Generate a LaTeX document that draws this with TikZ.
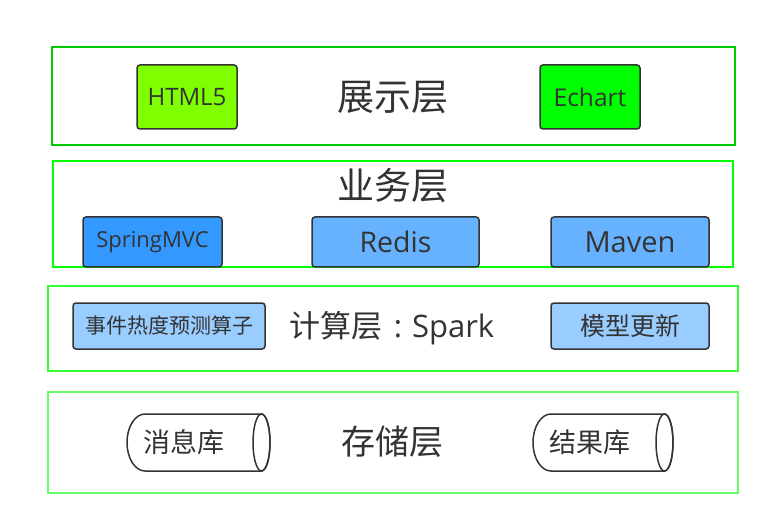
\documentclass[tikz,border=0pt]{standalone}
\usepackage{fontspec}
\setmainfont{Open Sans}
\newfontfamily\cjk{Noto Sans CJK SC}
\usepackage{tikz}
\definecolor{ink}{HTML}{333333}
\definecolor{layerA}{HTML}{00CC00}
\definecolor{layerB}{HTML}{00FF00}
\definecolor{layerC}{HTML}{33FF33}
\definecolor{layerD}{HTML}{66FF66}
\definecolor{lime}{HTML}{80FF00}
\definecolor{green}{HTML}{00FF00}
\definecolor{blue}{HTML}{3399FF}
\definecolor{sky}{HTML}{66B2FF}
\definecolor{pale}{HTML}{99CCFF}
\newcommand{\fs}[1]{\fontsize{#1}{#1}\selectfont}
\tikzset{
  layer/.style={draw, line width=2pt, inner sep=0pt},
  tool/.style={draw=ink, line width=1.5pt, rounded corners=3pt, inner sep=0pt, text=ink},
  can/.style={draw=ink, line width=1.5pt},
  lab/.style={text=ink, inner sep=0pt},
}

\begin{document}
\begin{tikzpicture}[x=1pt,y=-1pt]
  \useasboundingbox (0,0) rectangle (770,526);

  % layers
  \node[layer, draw=layerA, minimum width=683pt, minimum height=98pt] (show) at (393.5,96) {};
  \node[layer, draw=layerB, minimum width=680pt, minimum height=106pt] (biz) at (393,214) {};
  \node[layer, draw=layerC, minimum width=690pt, minimum height=85pt] (calc) at (393,328.5) {};
  \node[layer, draw=layerD, minimum width=690pt, minimum height=101pt] (save) at (393,442.5) {};

  \node[lab, font=\cjk\fs{37}] (showT) at (393,97) {展示层};
  \node[lab, font=\cjk\fs{37}] (bizT) at (393,186) {业务层};
  \node[lab, font=\fs{31}] (calcT) at (392,328) {{\cjk 计算层}\hspace{11pt}:\hspace{10pt}Spark};
  \node[lab, font=\cjk\fs{34}] (saveT) at (392.5,442) {存储层};

  % presentation
  \node[tool, fill=lime, minimum width=100pt, minimum height=64pt, font=\fs{24}] (html) at (187,97) {HTML5};
  \node[tool, fill=green, minimum width=100pt, minimum height=64pt, font=\fs{24.5}] (echart) at (590,97) {Echart};

  % business
  \node[tool, fill=blue, minimum width=139pt, minimum height=50pt, font=\fs{22}] (mvc) at (152.5,242) {SpringMVC};
  \node[tool, fill=sky, minimum width=167pt, minimum height=50pt, font=\fs{28.5}] (redis) at (395.5,242) {Redis};
  \node[tool, fill=sky, minimum width=158pt, minimum height=50pt, font=\fs{29}] (maven) at (630,242) {Maven};

  % computing
  \node[tool, fill=pale, minimum width=192pt, minimum height=46pt, font=\cjk\fs{21}] (hot) at (169,326) {事件热度预测算子};
  \node[tool, fill=pale, minimum width=158pt, minimum height=46pt, font=\cjk\fs{25}] (model) at (630,326) {模型更新};

  % storage
  \draw[can] (145,414) -- (261.5,414) arc[start angle=90, end angle=-90, x radius=8.5pt, y radius=28.5pt]
    -- (145,471) arc[start angle=270, end angle=90, x radius=18pt, y radius=28.5pt] -- cycle;
  \draw[can] (261.5,442.5) ellipse[x radius=8.5pt, y radius=28.5pt];
  \draw[can] (551,414) -- (664.5,414) arc[start angle=90, end angle=-90, x radius=8.5pt, y radius=28.5pt]
    -- (551,471) arc[start angle=270, end angle=90, x radius=18pt, y radius=28.5pt] -- cycle;
  \draw[can] (664.5,442.5) ellipse[x radius=8.5pt, y radius=28.5pt];
  \node[lab, font=\cjk\fs{27}] (msg) at (184,442) {消息库};
  \node[lab, font=\cjk\fs{27}] (res) at (590,442) {结果库};
\end{tikzpicture}
\end{document}
